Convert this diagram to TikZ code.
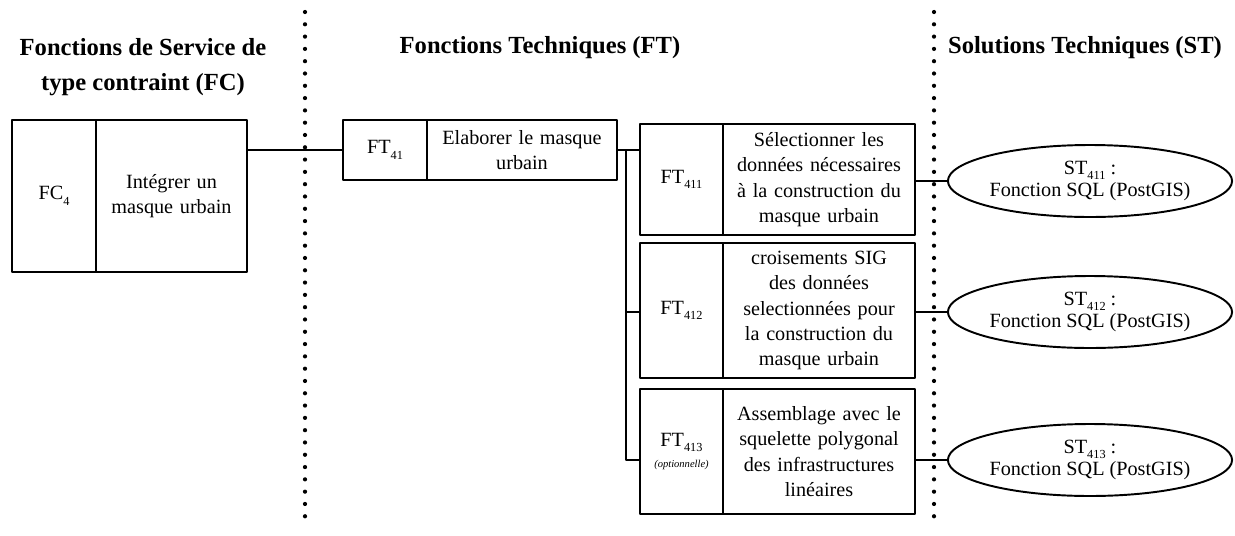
\documentclass[tikz,border=0pt]{standalone}
\usepackage{fontspec}
\setmainfont{Liberation Serif}
\usetikzlibrary{shapes.geometric}
\newcommand{\indice}[1]{\raisebox{-0.6ex}{\scriptsize #1}}

\begin{document}
\begin{tikzpicture}[x=0.02cm, y=-0.02cm, line cap=round, line join=round,
		heading/.style={font=\bfseries\fontsize{14}{20}\selectfont, align=center},
		cell/.style={draw, line width=1.5pt, inner sep=2pt, align=center, font=\fontsize{11.5}{14.5}\selectfont},
		stellipse/.style={draw, ellipse, line width=1.1pt, minimum width=5.32cm, minimum height=1.44cm, inner sep=0pt, align=center, font=\fontsize{11.5}{13}\selectfont},
		link/.style={line width=1pt},
		sep/.style={line width=2.4pt, dash pattern=on 0pt off 7pt, line cap=round}]
			\useasboundingbox (0,0) rectangle (1235,535);
			% separators
			\draw [sep] (305,12) -- (305,528);
			\draw [sep] (934,12) -- (934,528);
			% headings
			\node [heading] (hfc) at (143,67) {Fonctions de Service de\\type contraint (FC)};
			\node [heading] (hft) at (540,48) {Fonctions Techniques (FT)};
			\node [heading] (hst) at (1085,48) {Solutions Techniques (ST)};
			% FC
			\node [cell, minimum width=1.68cm, minimum height=3.04cm] (fc4) at (54,196) {FC\indice{4}};
			\node [cell, minimum width=3.02cm, minimum height=3.04cm, text width=2.8cm] (fc4txt) at (171.5,196) {Intégrer un\\masque urbain};
			% FT 41
			\node [cell, minimum width=1.68cm, minimum height=1.2cm] (ft41) at (385,150) {FT\indice{41}};
			\node [cell, minimum width=3.8cm, minimum height=1.2cm, text width=3.6cm] (ft41txt) at (522,150) {Elaborer le masque\\urbain};
			% FT 411 - 413
			\node [cell, minimum width=1.66cm, minimum height=2.22cm] (ft411) at (681.5,179.5) {FT\indice{411}};
			\node [cell, minimum width=3.84cm, minimum height=2.22cm, text width=3.64cm] (ft411txt) at (819,179.5) {Sélectionner les\\données nécessaires\\à la construction du\\masque urbain};
			\node [cell, minimum width=1.66cm, minimum height=2.7cm] (ft412) at (681.5,310.5) {FT\indice{412}};
			\node [cell, minimum width=3.84cm, minimum height=2.7cm, text width=3.64cm] (ft412txt) at (819,310.5) {croisements SIG\\des données\\selectionnées pour\\la construction du\\masque urbain};
			\node [cell, minimum width=1.66cm, minimum height=2.5cm] (ft413) at (681.5,451.5) {FT\indice{413}\\[-2pt]{\fontsize{6}{7}\selectfont\itshape (optionnelle)}};
			\node [cell, minimum width=3.84cm, minimum height=2.5cm, text width=3.64cm] (ft413txt) at (819,451.5) {Assemblage avec le\\squelette polygonal\\des infrastructures\\linéaires};
			% ST
			\node [stellipse] (st411) at (1090,181) {ST\indice{411} :\\Fonction SQL (PostGIS)};
			\node [stellipse] (st412) at (1090,312) {ST\indice{412} :\\Fonction SQL (PostGIS)};
			\node [stellipse] (st413) at (1090,460) {ST\indice{413} :\\Fonction SQL (PostGIS)};
			% connectors
			\coordinate (bus) at (626,150);
			\draw [link] (ft41.west) -- (ft41.west -| fc4txt.east);
			\draw [link] (ft41txt.east) -- (ft41txt.east -| ft411.west);
			\draw [link] (bus) |- (st413.west -| ft413.west);
			\draw [link] (bus |- st412.west) -- (st412.west -| ft412.west);
			\draw [link] (st411.west) -- (st411.west -| ft411txt.east);
			\draw [link] (st412.west) -- (st412.west -| ft412txt.east);
			\draw [link] (st413.west) -- (st413.west -| ft413txt.east);
		\end{tikzpicture}
\end{document}
